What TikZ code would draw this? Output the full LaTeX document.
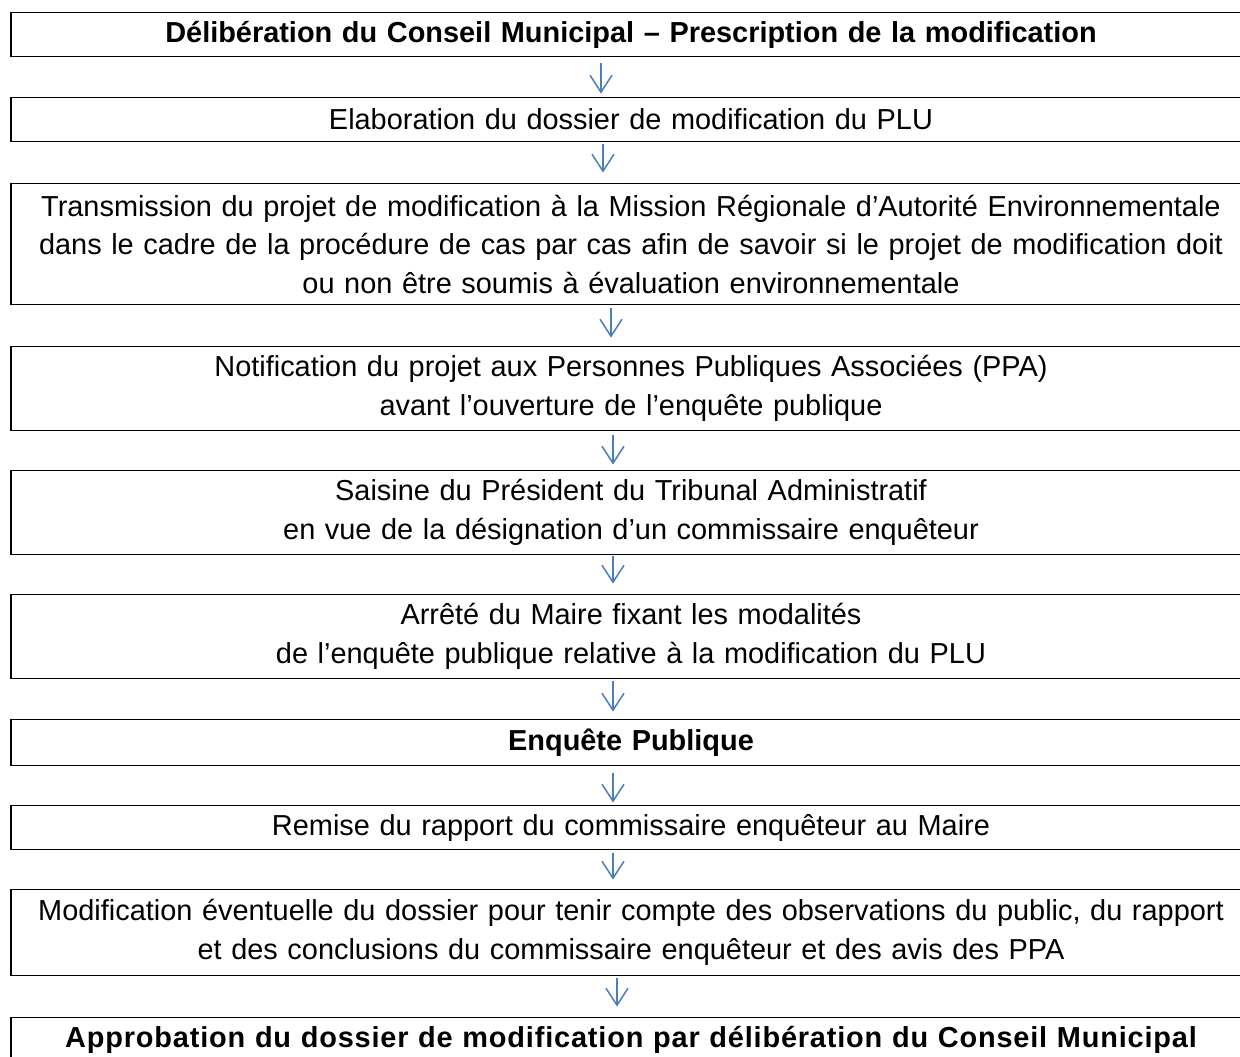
\documentclass[tikz,border=0pt]{standalone}
\usepackage{fontspec}
\setmainfont{Liberation Sans}
\usetikzlibrary{arrows.meta}
\definecolor{arrblue}{RGB}{74,126,187}
\begin{document}
\begin{tikzpicture}[x=1pt,y=-1pt,
  stepbox/.style={draw, line width=1.8pt, minimum width=1240pt, text width=1228pt,
    inner xsep=6pt, inner ysep=0pt, align=center,
    font=\fontsize{28.9}{38.5}\selectfont},
  boldbox/.style={stepbox, font=\fontsize{28.9}{38.5}\selectfont\bfseries},
  flow/.style={draw=arrblue, line width=1.5pt,
    -{Straight Barb[length=17pt,width=22pt,line width=1.5pt]}}]
\clip (0,0) rectangle (1240,1057);
\fill[white] (0,0) rectangle (1240,1057);

\node[boldbox, minimum height=44pt] (b1) at (631,34.5)
  {Délibération du Conseil Municipal – Prescription de la modification};
\node[stepbox, minimum height=44pt] (b2) at (631,119.5)
  {Elaboration du dossier de modification du PLU};
\node[stepbox, minimum height=121pt] (b3) at (631,244)
  {Transmission du projet de modification à la Mission Régionale d’Autorité Environnementale\\
   dans le cadre de la procédure de cas par cas afin de savoir si le projet de modification doit\\
   ou non être soumis à évaluation environnementale};
\node[stepbox, minimum height=84pt] (b4) at (631,388.5)
  {Notification du projet aux Personnes Publiques Associées (PPA)\\
   avant l’ouverture de l’enquête publique};
\node[stepbox, minimum height=84pt] (b5) at (631,512.5)
  {Saisine du Président du Tribunal Administratif\\
   en vue de la désignation d’un commissaire enquêteur};
\node[stepbox, minimum height=84pt] (b6) at (631,636.5)
  {Arrêté du Maire fixant les modalités\\
   de l’enquête publique relative à la modification du PLU};
\node[boldbox, minimum height=46pt] (b7) at (631,742.5)
  {Enquête Publique};
\node[stepbox, minimum height=44pt] (b8) at (631,827.5)
  {Remise du rapport du commissaire enquêteur au Maire};
\node[stepbox, minimum height=86pt] (b9) at (631,932.5)
  {Modification éventuelle du dossier pour tenir compte des observations du public, du rapport\\
   et des conclusions du commissaire enquêteur et des avis des PPA};
\node[boldbox, minimum height=45pt,
  font=\fontsize{28.9}{38.5}\selectfont\bfseries\addfontfeature{LetterSpace=2.9}] (b10) at (631,1040)
  {Approbation du dossier de modification par délibération du Conseil Municipal};

\draw[flow] ([xshift=-30pt,yshift=-6pt]b1.south) -- ([xshift=-30pt,yshift=3pt]b2.north);
\draw[flow] ([xshift=-28pt,yshift=-2pt]b2.south) -- ([xshift=-28pt,yshift=10pt]b3.north);
\draw[flow] ([xshift=-20pt,yshift=-3pt]b3.south) -- ([xshift=-20pt,yshift=8pt]b4.north);
\draw[flow] ([xshift=-18pt,yshift=-4pt]b4.south) -- ([xshift=-18pt,yshift=5pt]b5.north);
\draw[flow] ([xshift=-18pt,yshift=-1pt]b5.south) -- ([xshift=-18pt,yshift=10pt]b6.north);
\draw[flow] ([xshift=-18pt,yshift=-2pt]b6.south) -- ([xshift=-18pt,yshift=7pt]b7.north);
\draw[flow] ([xshift=-18pt,yshift=-7pt]b7.south) -- ([xshift=-18pt,yshift=2pt]b8.north);
\draw[flow] ([xshift=-18pt,yshift=-3pt]b8.south) -- ([xshift=-18pt,yshift=9pt]b9.north);
\draw[flow] ([xshift=-14pt,yshift=-2pt]b9.south) -- ([xshift=-14pt,yshift=10pt]b10.north);
\end{tikzpicture}
\end{document}
